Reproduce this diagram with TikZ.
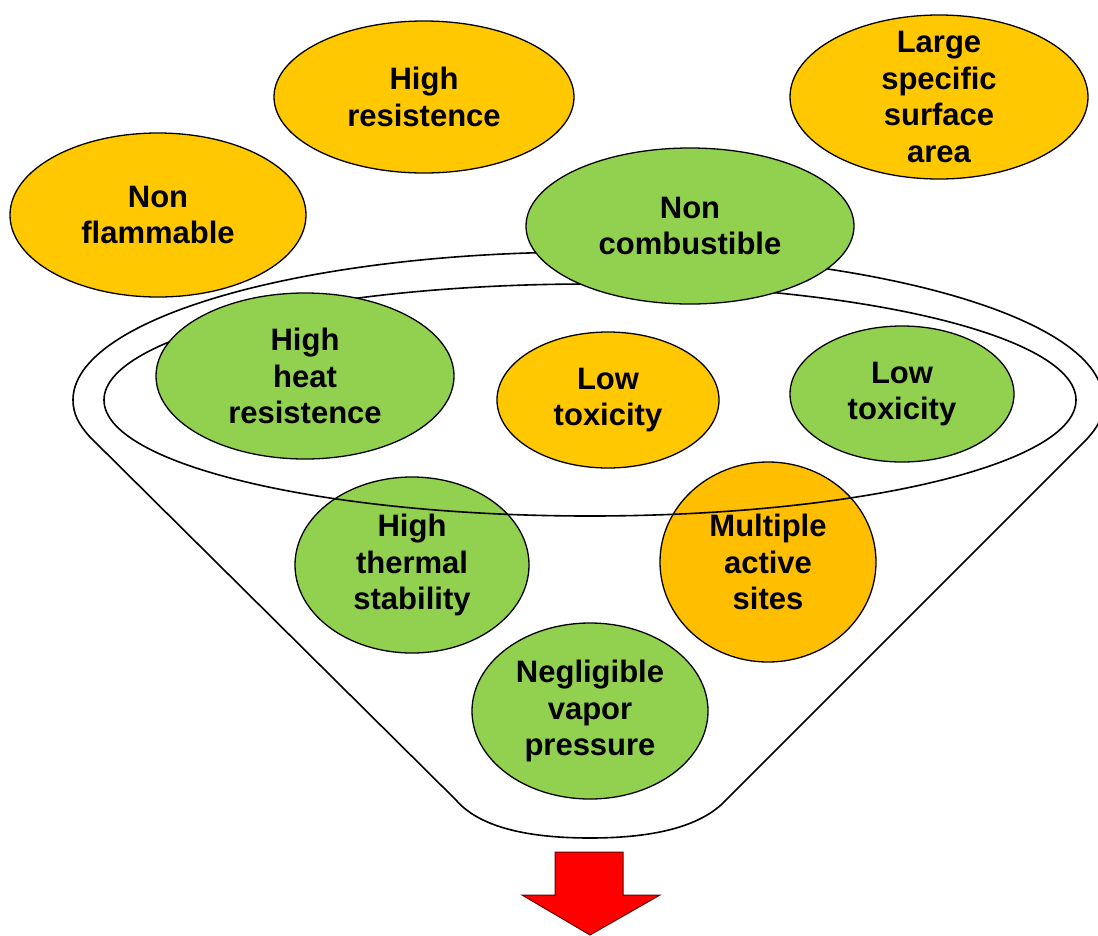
\documentclass[tikz,border=0pt]{standalone}
\usepackage{fontspec}
\setmainfont{Liberation Sans}
\usetikzlibrary{shapes.geometric}
\definecolor{yel}{HTML}{FFC800}
\definecolor{orng}{HTML}{FFBE00}
\definecolor{grn}{HTML}{92D050}
\definecolor{arrowred}{HTML}{FF0000}
\tikzset{
	blob/.style={ellipse, draw=black, line width=1.3pt, inner sep=0pt, align=center,
		font=\bfseries\fontsize{31}{36.5}\selectfont},
	yblob/.style={blob, fill=yel},
	gblob/.style={blob, fill=grn},
	funnel/.style={draw=black, line width=1.6pt}
}
\begin{document}
\begin{tikzpicture}[x=1pt,y=-1pt]
		\useasboundingbox (0,0) rectangle (1098,935);

		% ellipses lying under the funnel lines
		\node[gblob, minimum width=234, minimum height=176] (thermal) at (412,565) {High\\thermal\\stability};
		\node[blob, fill=orng, minimum width=216, minimum height=200] (sites) at (768,562) {Multiple\\active\\sites};

		% funnel
		\draw[funnel] (73,400) arc[start angle=180, end angle=360, x radius=515, y radius=148]
			.. controls (1104,418) and (1097,428) .. (1086,440) -- (726,800)
			.. controls (700,828) and (650,838) .. (590,838)
			.. controls (530,838) and (480,828) .. (456,800) -- (90,437)
			.. controls (79,425) and (73,414) .. cycle;
		\draw[funnel] (590,400) ellipse[x radius=486, y radius=116];

		% ellipses on top
		\node[yblob, minimum width=296, minimum height=164] (nonflam) at (158,215) {Non\\flammable};
		\node[yblob, minimum width=300, minimum height=152] (highres) at (424,97) {High\\resistence};
		\node[yblob, minimum width=298, minimum height=164, inner ysep=-28pt] (surface) at (939,97) {Large\\specific\\surface\\area};
		\node[gblob, minimum width=328, minimum height=156] (noncomb) at (690,226) {Non\\combustible};
		\node[gblob, minimum width=298, minimum height=166] (heat) at (305,376) {High\\heat\\resistence};
		\node[yblob, minimum width=222, minimum height=136] (lowtoxa) at (608,400) {Low\\toxicity};
		\node[gblob, minimum width=224, minimum height=136] (lowtoxb) at (902,394) {Low\\toxicity};
		\node[gblob, minimum width=236, minimum height=176] (vapor) at (590,711) {Negligible\\vapor\\pressure};

		% arrow out of the funnel
		\draw[fill=arrowred, draw=black!60!red, line width=1pt] (555,852) -- (623,852) -- (623,895) -- (660,895)
			-- (590,935) -- (522,895) -- (555,895) -- cycle;
	\end{tikzpicture}
\end{document}
